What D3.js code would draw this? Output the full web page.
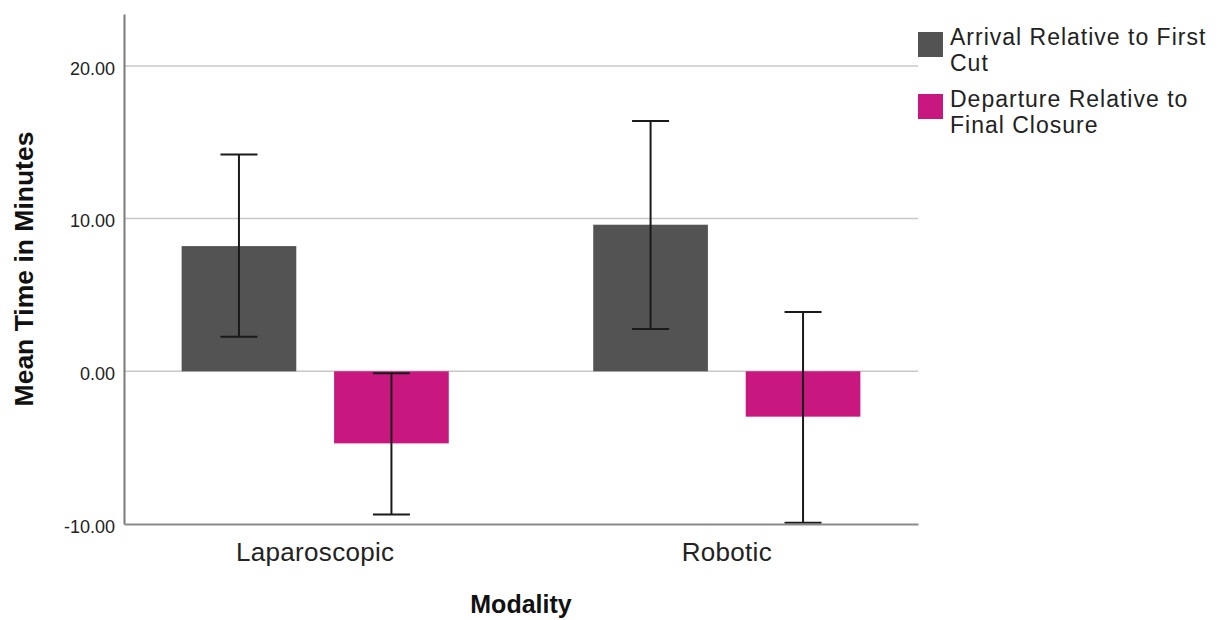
<!DOCTYPE html>
<html>
<head>
<meta charset="UTF-8">
<style>
    body { margin: 0; background: #fff; }
    svg { display: block; font-family: "Liberation Sans", Arial, sans-serif; }
</style>
</head>
<body>
<svg width="1222" height="620"></svg>
<script src="https://d3js.org/d3.v7.min.js"></script>
<script>

// data
let categories = ["Laparoscopic", "Robotic"]
let seriesNames = ["Arrival Relative to First Cut", "Departure Relative to Final Closure"]
let legendLines = [["Arrival Relative to First", "Cut"], ["Departure Relative to", "Final Closure"]]
let arrivalMean = [8.2, 9.6]
let arrivalLow = [2.27, 2.77]
let arrivalHigh = [14.2, 16.4]
let departureMean = [-4.72, -2.97]
let departureLow = [-9.37, -9.92]
let departureHigh = [-0.13, 3.88]
let yTicks = [-10, 0, 10, 20]
let colors = ["#535353", "#c8177f"]

let svg = d3.select("svg")

let plotLeft = 124, plotRight = 918, plotTop = 14, plotBottom = 524

let y = d3.scaleLinear().domain([-10, 23.4]).range([plotBottom, plotTop])

let x = d3.scaleBand().domain(categories).range([plotLeft, plotRight])
    .paddingInner(0.351).paddingOuter(0.14)

let xs = d3.scaleBand().domain(seriesNames).range([0, x.bandwidth()])
    .paddingInner(0.248).paddingOuter(0)

let color = d3.scaleOrdinal().domain(seriesNames).range(colors)

// rows: one per bar
let rows = []
categories.forEach((c, i) => {
    rows.push({cat: c, s: seriesNames[0], mean: arrivalMean[i], lo: arrivalLow[i], hi: arrivalHigh[i]})
    rows.push({cat: c, s: seriesNames[1], mean: departureMean[i], lo: departureLow[i], hi: departureHigh[i]})
})

// gridlines
svg.append("g")
    .selectAll("line")
    .data(yTicks.filter(d => d > -10))
    .enter()
    .append("line")
    .attr("x1", plotLeft).attr("x2", plotRight)
    .attr("y1", d => y(d)).attr("y2", d => y(d))
    .style("stroke", "#c8c8c8")
    .style("stroke-width", 1.5)

// bars
svg.append("g")
    .selectAll("rect")
    .data(rows)
    .enter()
    .append("rect")
    .attr("x", d => x(d.cat) + xs(d.s))
    .attr("width", xs.bandwidth())
    .attr("y", d => y(Math.max(0, d.mean)))
    .attr("height", d => Math.abs(y(d.mean) - y(0)))
    .attr("fill", d => color(d.s))

// error bars
let capW = 37
let err = svg.append("g")
    .selectAll("g")
    .data(rows)
    .enter()
    .append("g")
    .attr("transform", d => "translate(" + (x(d.cat) + xs(d.s) + xs.bandwidth() / 2) + ",0)")
    .style("stroke", "#1a1a1a")
    .style("stroke-width", 2)

err.append("line").attr("x1", 0).attr("x2", 0).attr("y1", d => y(d.hi)).attr("y2", d => y(d.lo))
err.append("line").attr("x1", -capW / 2).attr("x2", capW / 2).attr("y1", d => y(d.hi)).attr("y2", d => y(d.hi))
err.append("line").attr("x1", -capW / 2).attr("x2", capW / 2).attr("y1", d => y(d.lo)).attr("y2", d => y(d.lo))

// axes
let yAxis = svg.append("g")
    .attr("transform", "translate(" + plotLeft + ",0)")
    .call(d3.axisLeft(y).tickValues(yTicks).tickSize(0).tickPadding(9)
        .tickFormat(d => d.toFixed(2)))
yAxis.select(".domain").style("stroke", "#7a7a7a").style("stroke-width", 2)
yAxis.selectAll("text")
    .style("font-family", "Liberation Sans, Arial, sans-serif")
    .style("font-size", "18px")
    .style("fill", "#222")
    .attr("dy", "0.45em")

let xAxis = svg.append("g")
    .attr("transform", "translate(0," + plotBottom + ")")
    .call(d3.axisBottom(x).tickSize(0).tickPadding(0))
xAxis.select(".domain").style("stroke", "#8a8a8a").style("stroke-width", 2)
xAxis.selectAll("text")
    .style("font-family", "Liberation Sans, Arial, sans-serif")
    .style("font-size", "26px")
    .style("letter-spacing", "0.3px")
    .style("fill", "#222")
    .attr("y", 37)
    .attr("dy", 0)

// axis titles
svg.append("text")
    .attr("x", (plotLeft + plotRight) / 2)
    .attr("y", 613)
    .attr("text-anchor", "middle")
    .style("font-size", "25px")
    .style("font-weight", "bold")
    .style("fill", "#111")
    .text("Modality")

svg.append("text")
    .attr("transform", "translate(33,269) rotate(-90)")
    .attr("text-anchor", "middle")
    .style("font-size", "26.5px")
    .style("font-weight", "bold")
    .style("fill", "#111")
    .text("Mean Time in Minutes")

// legend
let legend = svg.append("g")
    .selectAll("g")
    .data(seriesNames)
    .enter()
    .append("g")
    .attr("transform", (d, i) => "translate(918," + (32 + i * 62) + ")")

legend.append("rect")
    .attr("width", 25).attr("height", 25)
    .attr("fill", d => color(d))

legend.append("text")
    .style("font-size", "23px")
    .style("letter-spacing", "1px")
    .style("fill", "#222")
    .selectAll("tspan")
    .data((d, i) => legendLines[i])
    .enter()
    .append("tspan")
    .attr("x", 32)
    .attr("y", (d, j) => 13 + j * 26)
    .text(d => d)

</script>
</body>
</html>
